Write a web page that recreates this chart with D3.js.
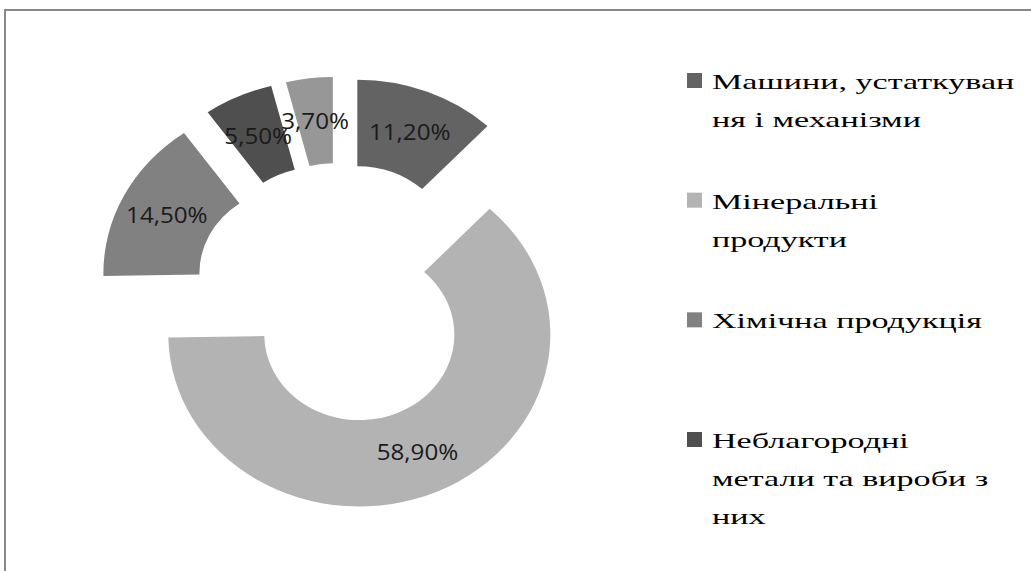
<!DOCTYPE html>
<html>
<head>
<meta charset="utf-8">
<script src="https://cdn.jsdelivr.net/npm/d3@7"></script>
<style>
  body { margin: 0; background: #fff; }
</style>
</head>
<body>
<div id="chart"></div>
<script>
// slices, clockwise from 12 o'clock (Excel normalises the five values)
var values = [11.2, 58.9, 14.5, 5.5, 3.7];
var valueLabels = ["11,20%", "58,90%", "14,50%", "5,50%", "3,70%"];
var sliceColors = ["#636363", "#b3b3b3", "#818181", "#4f4f4f", "#979797"];

// legend only shows the first four categories
var legendNames = [
    ["Машини, устаткуван", "ня і механізми"],
    ["Мінеральні", "продукти"],
    ["Хімічна продукція"],
    ["Неблагородні", "метали та вироби з", "них"]
];

var width = 1031, height = 571;
var cx = 339, cy = 293.5;
var outerR = 191, innerR = 95;
var squash = 0.9;     // chart is a bit wider than tall
var explode = 50;

var svg = d3.select("#chart").append("svg")
    .attr("width", width)
    .attr("height", height);

// chart frame (runs off the right and bottom edge)
svg.append("rect")
    .attr("x", 5).attr("y", 10)
    .attr("width", 1200).attr("height", 800)
    .attr("fill", "none")
    .attr("stroke", "#888")
    .attr("stroke-width", 2);

var pie = d3.pie().sort(null).value(function(d){ return d; });
var arcs = pie(values);

var arc = d3.arc().innerRadius(innerR).outerRadius(outerR);

function midAngle(d){ return (d.startAngle + d.endAngle) / 2; }

var slices = svg.append("g").selectAll("g.slice")
    .data(arcs)
    .enter()
    .append("g")
    .attr("class", "slice")
    .attr("transform", function(d){
        var a = midAngle(d);
        var x = cx + explode * Math.sin(a);
        var y = cy - explode * Math.cos(a) * squash;
        return "translate(" + x + "," + y + ") scale(1," + squash + ")";
    });

slices.append("path")
    .attr("d", arc)
    .attr("fill", function(d, i){ return sliceColors[i]; });

// percentage labels at the slice centroid
svg.append("g").selectAll("text")
    .data(arcs)
    .enter()
    .append("text")
    .attr("transform", function(d){
        var a = midAngle(d);
        var r = explode + (innerR + outerR) / 2;
        var x = cx + r * Math.sin(a);
        var y = cy - r * Math.cos(a) * squash;
        return "translate(" + x + "," + y + ") scale(1.1,1)";
    })
    .attr("text-anchor", "middle")
    .attr("dy", "0.36em")
    .style("font-family", "'Open Sans', sans-serif")
    .style("font-size", "22px")
    .attr("fill", "#1a1a1a")
    .text(function(d, i){ return valueLabels[i]; });

// legend
var legendY = d3.scaleLinear().domain([0, 3]).range([89, 448]);
var lineGap = 38;

var legend = svg.append("g").selectAll("g.entry")
    .data(legendNames)
    .enter()
    .append("g")
    .attr("class", "entry")
    .attr("transform", function(d, i){ return "translate(687," + legendY(i) + ")"; });

legend.append("rect")
    .attr("x", 0).attr("y", -16)
    .attr("width", 15).attr("height", 15)
    .attr("fill", function(d, i){ return sliceColors[i]; });

legend.append("text")
    .attr("transform", "translate(25,0) scale(1.55,1)")
    .style("font-family", "'Liberation Serif', 'Times New Roman', serif")
    .style("font-size", "22px")
    .attr("fill", "#000")
    .selectAll("tspan")
    .data(function(d){ return d; })
    .enter()
    .append("tspan")
    .attr("x", 0)
    .attr("y", function(d, i){ return i * lineGap; })
    .text(function(d){ return d; });
</script>
</body>
</html>
